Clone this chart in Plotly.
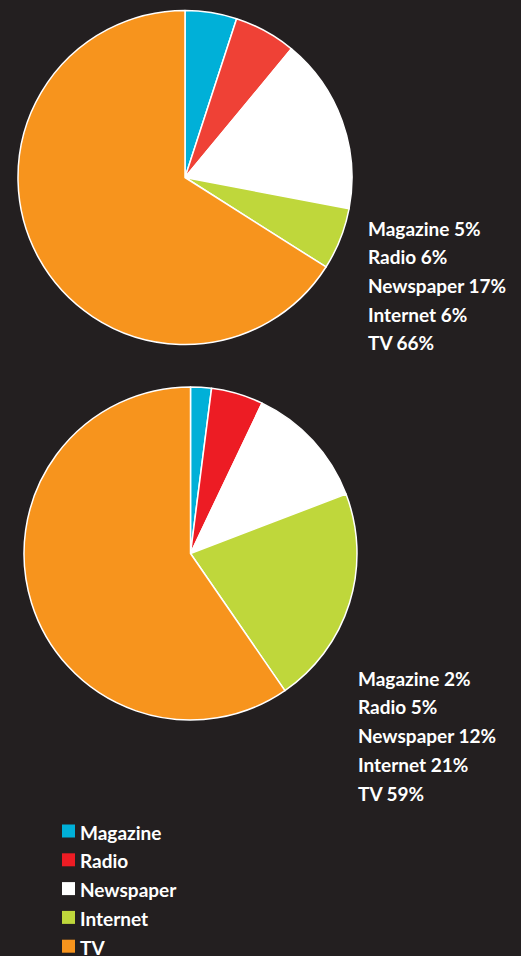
import plotly.graph_objects as go

labels = ["Magazine", "Radio", "Newspaper", "Internet", "TV"]
values_top = [5, 6, 17, 6, 66]
values_bottom = [2, 5, 12, 21, 59]
colors_top = ["#00b0d8", "#ef4136", "#ffffff", "#bfd73b", "#f7941d"]
colors_bottom = ["#00b0d8", "#ed1c24", "#ffffff", "#bfd73b", "#f7941d"]
legend_colors = ["#00b0d8", "#ed1c24", "#ffffff", "#bfd73b", "#f7941d"]

W, H = 521, 956
BG = "#231f20"
FONT = "Lato"


def px_x(x):
    return x / W


def px_y(y):
    return 1 - y / H


fig = go.Figure()

fig.add_trace(go.Pie(
    labels=labels, values=values_top, sort=False, direction="clockwise",
    rotation=0, textinfo="none", hoverinfo="label+percent",
    marker=dict(colors=colors_top, line=dict(color="#ffffff", width=1.5)),
    domain=dict(x=[px_x(18), px_x(352)], y=[px_y(345), px_y(10)]),
    showlegend=False,
))
fig.add_trace(go.Pie(
    labels=labels, values=values_bottom, sort=False, direction="clockwise",
    rotation=0, textinfo="none", hoverinfo="label+percent",
    marker=dict(colors=colors_bottom, line=dict(color="#ffffff", width=1.5)),
    domain=dict(x=[px_x(24), px_x(357)], y=[px_y(720), px_y(387)]),
    showlegend=False,
))

annotations = []
shapes = []
top_x, top_y0, step_top = 367, 227, 28.7
bot_x, bot_y0, step_bot = 357, 677, 28.9
for i, (lab, v) in enumerate(zip(labels, values_top)):
    annotations.append(dict(
        x=px_x(top_x), y=px_y(top_y0 + i * step_top + 1), xref="paper", yref="paper",
        xanchor="left", yanchor="middle", showarrow=False, borderpad=0,
        text=f"{lab} {v}%", font=dict(family=FONT, size=19, color="#ffffff", weight="bold")))
for i, (lab, v) in enumerate(zip(labels, values_bottom)):
    annotations.append(dict(
        x=px_x(bot_x), y=px_y(bot_y0 + i * step_bot + 1), xref="paper", yref="paper",
        xanchor="left", yanchor="middle", showarrow=False, borderpad=0,
        text=f"{lab} {v}%", font=dict(family=FONT, size=19, color="#ffffff", weight="bold")))

leg_y0, leg_step = 831, 28.8
for i, (lab, c) in enumerate(zip(labels, legend_colors)):
    cy = leg_y0 + i * leg_step
    shapes.append(dict(
        type="rect", xref="paper", yref="paper",
        x0=px_x(62), x1=px_x(75), y0=px_y(cy + 6.5), y1=px_y(cy - 6.5),
        fillcolor=c, line=dict(width=0)))
    annotations.append(dict(
        x=px_x(79), y=px_y(cy + 1), xref="paper", yref="paper",
        xanchor="left", yanchor="middle", showarrow=False, borderpad=0,
        text=lab, font=dict(family=FONT, size=19, color="#ffffff", weight="bold")))

fig.update_layout(
    width=W, height=H, margin=dict(l=0, r=0, t=0, b=0),
    paper_bgcolor=BG, plot_bgcolor=BG,
    annotations=annotations, shapes=shapes,
)

fig.write_html("out.html")
